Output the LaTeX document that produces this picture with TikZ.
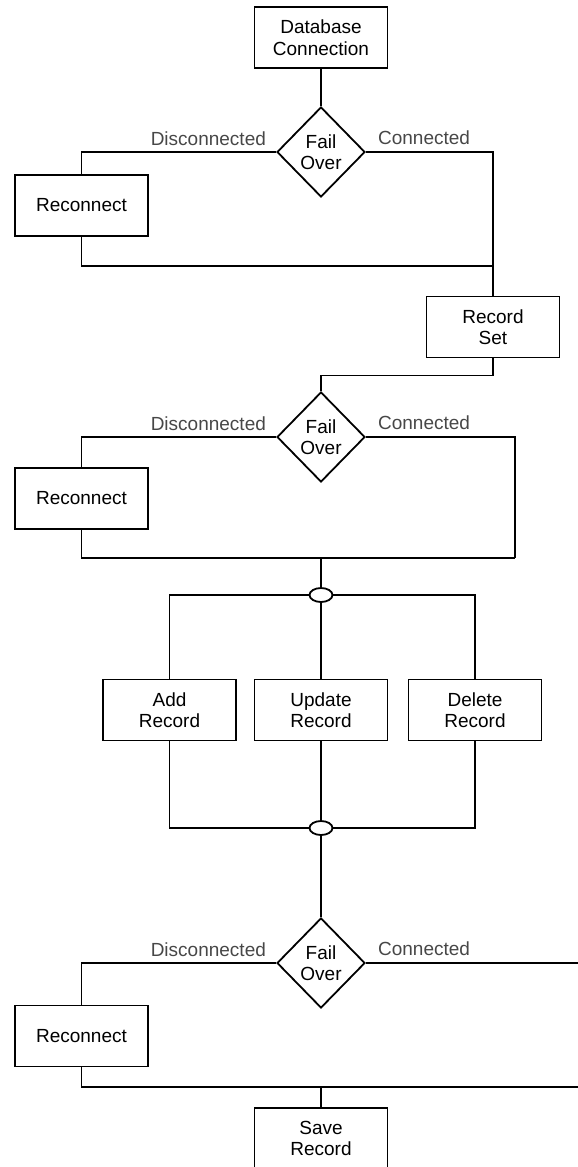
\documentclass[tikz,border=0pt]{standalone}
\usepackage{fontspec}
\setmainfont{Liberation Sans}
\usetikzlibrary{shapes.geometric}

\begin{document}
\begin{tikzpicture}[x=1pt, y=-1pt]
  \tikzset{
    stepbox/.style={rectangle, draw, line width=1.8pt, fill=white, align=center,
                    minimum width=133pt, minimum height=61pt, inner sep=0pt,
                    font=\fontsize{19}{21.5}\selectfont},
    failover/.style={diamond, draw, line width=1.8pt, fill=white, align=center,
                     minimum width=88pt, minimum height=90pt, inner sep=0pt,
                     font=\fontsize{19}{21.5}\selectfont},
    joint/.style={ellipse, draw, line width=1.8pt, fill=white,
                  minimum width=23pt, minimum height=14pt, inner sep=0pt},
    wire/.style={line width=1.8pt},
    branch/.style={text=black!72, inner sep=0pt, font=\fontsize{19}{21.5}\selectfont},
  }
  \clip (0,0) rectangle (578,1167);
  % Connection and first fail over
  \node[stepbox]  (db)  at (321,37.5)  {Database\\Connection};
  \node[failover] (fo1) at (321,152)   {Fail\\Over};
  \node[stepbox]  (rc1) at (81.5,205.5) {Reconnect};
  \node[stepbox]  (rs)  at (493,327)   {Record\\Set};
  \coordinate (m1) at (493,266);
  \draw[wire] (db) -- (fo1);
  \draw[wire] (fo1.west) -| (rc1.north);
  \draw[wire] (fo1.east) -| (rs.north);
  \draw[wire] (rc1.south) |- (m1);
  \node[branch, anchor=base east] at ([xshift=-10pt, yshift=7pt]fo1.west) {Disconnected};
  \node[branch, anchor=base west] at ([xshift=12pt, yshift=8pt]fo1.east) {Connected};
  % Second fail over
  \node[failover] (fo2) at (321,437)   {Fail\\Over};
  \node[stepbox]  (rc2) at (81.5,498.5) {Reconnect};
  \coordinate (m2) at (515,558);
  \draw[wire] (rs.south) -- ++(0,17) -| (fo2.north);
  \draw[wire] (fo2.west) -| (rc2.north);
  \draw[wire] (fo2.east) -| (m2);
  \draw[wire] (rc2.south) |- (m2);
  \node[branch, anchor=base east] at ([xshift=-10pt, yshift=7pt]fo2.west) {Disconnected};
  \node[branch, anchor=base west] at ([xshift=12pt, yshift=8pt]fo2.east) {Connected};
  % Record operations
  \node[joint]   (j1)  at (321,595) {};
  \node[stepbox] (add) at (169.5,710) {Add\\Record};
  \node[stepbox] (upd) at (321,710)   {Update\\Record};
  \node[stepbox] (del) at (475,710)   {Delete\\Record};
  \node[joint]   (j2)  at (321,828) {};
  \draw[wire] (m2 -| j1) -- (j1.north);
  \draw[wire] (j1.west) -| (add.north);
  \draw[wire] (j1.east) -| (del.north);
  \draw[wire] (j1.south) -- (upd.north);
  \draw[wire] (add.south) |- (j2.west);
  \draw[wire] (del.south) |- (j2.east);
  \draw[wire] (upd.south) -- (j2.north);
  % Third fail over and save
  \node[failover] (fo3)  at (321,963)    {Fail\\Over};
  \node[stepbox]  (rc3)  at (81.5,1036)  {Reconnect};
  \node[stepbox]  (save) at (321,1138.5) {Save\\Record};
  \coordinate (e3) at (580,963);
  \coordinate (m3) at (580,1087);
  \draw[wire] (j2.south) -- (fo3.north);
  \draw[wire] (fo3.west) -| (rc3.north);
  \draw[wire] (fo3.east) -- (e3);
  \draw[wire] (rc3.south) |- (m3);
  \draw[wire] (m3 -| save) -- (save.north);
  \node[branch, anchor=base east] at ([xshift=-10pt, yshift=7pt]fo3.west) {Disconnected};
  \node[branch, anchor=base west] at ([xshift=12pt, yshift=8pt]fo3.east) {Connected};
\end{tikzpicture}
\end{document}
